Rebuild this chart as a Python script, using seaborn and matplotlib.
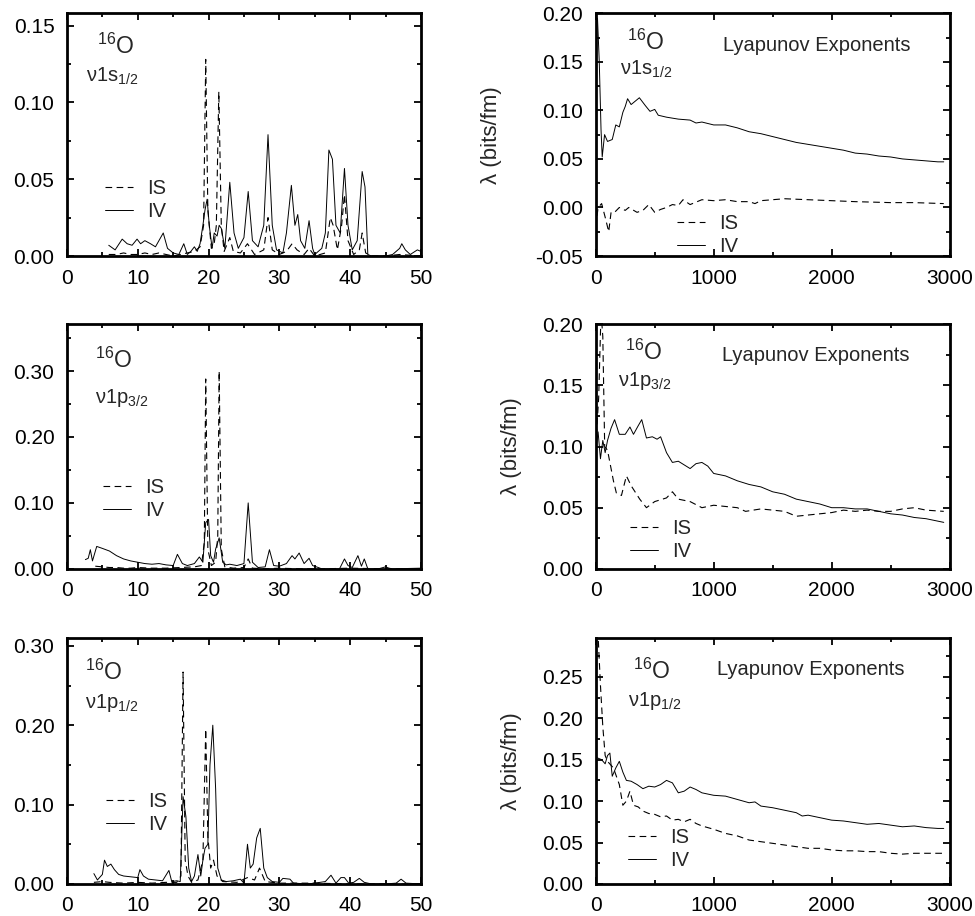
import numpy as np
import pandas as pd
import matplotlib
matplotlib.use('Agg')
import matplotlib.pyplot as plt
import seaborn as sns
from matplotlib.ticker import MultipleLocator, FormatStrFormatter

sns.set_style('ticks')
plt.rcParams['font.family'] = ['Liberation Sans', 'DejaVu Sans']
plt.rcParams['mathtext.fontset'] = 'custom'
plt.rcParams['mathtext.rm'] = 'Liberation Sans'
plt.rcParams['mathtext.it'] = 'Liberation Sans:italic'
plt.rcParams['axes.unicode_minus'] = False

# ---- left column: spectra, x 0..50 ----
s12_iv_x = [5.9, 6.8, 7.8, 8.5, 9.2, 9.9, 10.4, 11.0, 11.8, 12.5,
            13.6, 14.2, 15.0, 15.8, 16.5, 17.0, 17.5, 18.0, 18.4, 18.8,
            19.2, 19.5, 19.8, 20.1, 20.5, 20.8, 21.2, 21.5, 21.8, 22.3,
            23.0, 23.6, 24.2, 25.0, 25.6, 26.2, 27.0, 27.8, 28.4, 29.0,
            29.6, 30.5, 31.0, 31.7, 32.2, 32.6, 33.0, 33.6, 34.2, 34.7,
            35.0, 36.0, 36.5, 37.0, 37.5, 38.0, 38.6, 39.2, 39.7, 40.3,
            41.0, 41.7, 42.1, 42.5, 43.0, 45.0, 46.0, 47.0, 47.3, 47.8,
            48.5, 49.5, 50.0]
s12_iv_y = [0.007, 0.004, 0.011, 0.008, 0.007, 0.011, 0.008, 0.010, 0.008, 0.006,
            0.015, 0.005, 0.002, 0.001, 0.008, 0.001, 0.003, 0.006, 0.003, 0.008,
            0.020, 0.030, 0.037, 0.020, 0.005, 0.015, 0.013, 0.020, 0.018, 0.005,
            0.048, 0.015, 0.005, 0.012, 0.042, 0.010, 0.006, 0.020, 0.079, 0.020,
            0.004, 0.002, 0.015, 0.046, 0.020, 0.027, 0.010, 0.005, 0.023, 0.005,
            0.001, 0.005, 0.015, 0.069, 0.063, 0.020, 0.015, 0.057, 0.020, 0.004,
            0.010, 0.055, 0.045, 0.001, 0.000, 0.000, 0.001, 0.005, 0.008, 0.004,
            0.001, 0.004, 0.003]
s12_is_x = [5.9, 7.0, 8.0, 9.0, 10.0, 11.0, 12.0, 13.0, 14.0, 15.0,
            16.0, 17.0, 18.0, 18.8, 19.3, 19.6, 19.9, 20.4, 20.8, 21.1,
            21.45, 21.8, 22.2, 23.0, 23.5, 24.5, 25.5, 26.5, 27.8, 28.4,
            29.0, 30.0, 31.0, 31.8, 32.5, 33.5, 34.2, 35.0, 36.5, 37.2,
            37.6, 38.2, 38.8, 39.2, 39.7, 40.5, 41.3, 41.7, 42.2, 43.0,
            45.0, 47.0, 50.0]
s12_is_y = [0.001, 0.001, 0.002, 0.001, 0.001, 0.002, 0.001, 0.002, 0.001, 0.000,
            0.001, 0.002, 0.003, 0.006, 0.020, 0.128, 0.030, 0.005, 0.008, 0.020,
            0.107, 0.020, 0.003, 0.012, 0.003, 0.002, 0.008, 0.001, 0.004, 0.025,
            0.004, 0.001, 0.003, 0.008, 0.004, 0.001, 0.005, 0.000, 0.002, 0.025,
            0.020, 0.004, 0.020, 0.040, 0.010, 0.001, 0.004, 0.015, 0.002, 0.000,
            0.000, 0.001, 0.000]

p32_iv_x = [2.6, 3.0, 3.3, 3.6, 4.2, 5.0, 6.0, 7.0, 8.0, 9.0,
            10.0, 11.0, 12.0, 13.0, 14.0, 15.0, 15.6, 16.3, 17.0, 18.0,
            18.7, 19.2, 19.6, 20.0, 20.3, 20.7, 21.0, 21.5, 22.0, 22.5,
            23.0, 24.0, 25.0, 25.6, 26.2, 27.0, 28.0, 28.6, 29.2, 30.0,
            31.0, 31.8, 32.2, 32.8, 33.5, 34.2, 34.7, 35.5, 36.0, 38.5,
            39.2, 39.7, 40.3, 41.1, 41.6, 42.0, 42.5, 44.0, 45.0, 45.5,
            46.0, 50.0]
p32_iv_y = [0.014, 0.016, 0.029, 0.012, 0.034, 0.031, 0.027, 0.020, 0.015, 0.012,
            0.010, 0.008, 0.007, 0.008, 0.006, 0.005, 0.022, 0.008, 0.005, 0.008,
            0.018, 0.010, 0.070, 0.075, 0.020, 0.010, 0.030, 0.047, 0.010, 0.006,
            0.007, 0.005, 0.008, 0.100, 0.010, 0.002, 0.003, 0.029, 0.005, 0.004,
            0.008, 0.020, 0.015, 0.024, 0.008, 0.016, 0.005, 0.002, 0.000, 0.000,
            0.015, 0.005, 0.002, 0.020, 0.004, 0.015, 0.000, 0.000, 0.003, 0.001,
            0.000, 0.001]
p32_is_x = [4.0, 5.0, 6.0, 7.0, 8.0, 9.0, 10.0, 12.0, 14.0, 16.0,
            18.0, 19.0, 19.4, 19.6, 19.9, 20.4, 21.0, 21.3, 21.5, 21.8,
            22.3, 23.5, 25.0, 25.6, 26.2, 28.0, 30.0, 33.0, 36.0, 40.0,
            45.0, 50.0]
p32_is_y = [0.004, 0.003, 0.002, 0.002, 0.001, 0.001, 0.002, 0.001, 0.001, 0.002,
            0.003, 0.005, 0.040, 0.288, 0.030, 0.005, 0.010, 0.050, 0.300, 0.030,
            0.003, 0.001, 0.002, 0.015, 0.001, 0.000, 0.001, 0.000, 0.000, 0.001,
            0.000, 0.000]

p12_iv_x = [3.8, 4.3, 5.0, 5.3, 5.7, 6.2, 6.7, 7.3, 8.0, 9.0,
            10.0, 10.3, 10.8, 11.5, 12.5, 13.5, 14.4, 14.8, 15.5, 16.0,
            16.4, 16.8, 17.2, 17.6, 18.0, 18.5, 18.9, 19.2, 19.5, 19.9,
            20.2, 20.6, 21.0, 21.3, 21.8, 22.5, 23.5, 24.5, 25.0, 25.5,
            25.9, 26.3, 26.8, 27.3, 27.8, 28.3, 29.0, 30.0, 30.5, 31.5,
            32.0, 34.0, 35.0, 36.5, 37.3, 38.0, 38.7, 39.2, 39.8, 40.5,
            41.3, 42.0, 43.0, 45.0, 46.5, 47.2, 47.9, 50.0]
p12_iv_y = [0.013, 0.005, 0.012, 0.030, 0.022, 0.025, 0.018, 0.012, 0.010, 0.009,
            0.008, 0.018, 0.010, 0.006, 0.005, 0.004, 0.017, 0.003, 0.004, 0.003,
            0.110, 0.085, 0.020, 0.003, 0.010, 0.037, 0.010, 0.030, 0.045, 0.050,
            0.150, 0.200, 0.120, 0.020, 0.005, 0.003, 0.004, 0.006, 0.001, 0.050,
            0.020, 0.025, 0.058, 0.070, 0.020, 0.008, 0.003, 0.002, 0.007, 0.006,
            0.001, 0.000, 0.001, 0.003, 0.011, 0.001, 0.008, 0.008, 0.001, 0.002,
            0.007, 0.002, 0.000, 0.000, 0.001, 0.006, 0.001, 0.000]
p12_is_x = [3.8, 5.0, 6.0, 8.0, 10.0, 12.0, 14.0, 15.5, 16.1, 16.4,
            16.7, 17.1, 17.6, 18.5, 19.2, 19.6, 19.9, 20.3, 20.7, 21.2,
            22.0, 24.0, 25.5, 26.5, 27.2, 28.0, 30.0, 35.0, 40.0, 45.0,
            50.0]
p12_is_y = [0.002, 0.003, 0.002, 0.001, 0.002, 0.001, 0.002, 0.002, 0.010, 0.267,
            0.030, 0.010, 0.002, 0.005, 0.030, 0.195, 0.060, 0.020, 0.030, 0.010,
            0.003, 0.002, 0.008, 0.005, 0.020, 0.003, 0.001, 0.001, 0.000, 0.000,
            0.000]

# ---- right column: Lyapunov exponents, x 0..3000 ----
ly_s12_iv_x = [0, 15, 30, 45, 55, 75, 100, 140, 170, 200,
               230, 250, 270, 300, 340, 370, 420, 460, 500, 530,
               600, 700, 800, 850, 900, 1000, 1100, 1200, 1300, 1400,
               1500, 1600, 1700, 1800, 1900, 2000, 2100, 2200, 2300, 2400,
               2500, 2600, 2700, 2800, 2900, 2950]
ly_s12_iv_y = [0.190, 0.195, 0.150, 0.080, 0.052, 0.075, 0.068, 0.070, 0.085, 0.083,
               0.098, 0.104, 0.112, 0.106, 0.110, 0.113, 0.105, 0.099, 0.101, 0.095,
               0.093, 0.091, 0.090, 0.087, 0.088, 0.085, 0.085, 0.082, 0.078, 0.076,
               0.073, 0.070, 0.067, 0.065, 0.063, 0.061, 0.059, 0.056, 0.055, 0.053,
               0.052, 0.050, 0.049, 0.048, 0.047, 0.047]
ly_s12_is_x = [0, 20, 50, 80, 110, 130, 160, 200, 250, 280,
               350, 400, 450, 500, 550, 600, 650, 700, 740, 800,
               900, 1000, 1100, 1200, 1300, 1350, 1400, 1500, 1600, 1800,
               2000, 2200, 2500, 2700, 2950]
ly_s12_is_y = [-0.020, 0.000, 0.004, -0.010, -0.025, -0.005, -0.005, 0.000, -0.003, 0.000,
               -0.005, -0.003, 0.003, -0.005, -0.002, 0.000, 0.003, 0.002, 0.008, 0.003,
               0.008, 0.007, 0.008, 0.006, 0.006, 0.004, 0.007, 0.008, 0.009, 0.008,
               0.007, 0.006, 0.005, 0.005, 0.004]

ly_p32_iv_x = [0, 20, 40, 60, 80, 100, 130, 160, 200, 250,
               290, 320, 360, 390, 430, 480, 520, 550, 600, 650,
               700, 750, 800, 850, 900, 950, 1000, 1100, 1200, 1300,
               1400, 1500, 1600, 1700, 1800, 1900, 2000, 2100, 2200, 2300,
               2400, 2500, 2600, 2700, 2800, 2900, 2950]
ly_p32_iv_y = [0.098, 0.112, 0.090, 0.105, 0.095, 0.105, 0.115, 0.122, 0.110, 0.110,
               0.116, 0.110, 0.117, 0.122, 0.107, 0.108, 0.106, 0.108, 0.095, 0.087,
               0.088, 0.085, 0.082, 0.086, 0.087, 0.084, 0.078, 0.076, 0.072, 0.069,
               0.067, 0.063, 0.061, 0.057, 0.055, 0.053, 0.050, 0.050, 0.049, 0.049,
               0.047, 0.045, 0.044, 0.042, 0.041, 0.039, 0.038]
ly_p32_is_x = [0, 25, 45, 60, 76, 100, 150, 175, 218, 260,
               300, 373, 430, 500, 600, 650, 700, 800, 900, 1000,
               1100, 1200, 1270, 1400, 1600, 1700, 1800, 1900, 2000, 2100,
               2200, 2300, 2400, 2500, 2600, 2700, 2800, 2950]
ly_p32_is_y = [0.100, 0.140, 0.210, 0.190, 0.100, 0.097, 0.072, 0.062, 0.060, 0.076,
               0.068, 0.057, 0.050, 0.055, 0.058, 0.063, 0.057, 0.055, 0.050, 0.052,
               0.051, 0.050, 0.047, 0.049, 0.047, 0.043, 0.044, 0.045, 0.046, 0.048,
               0.047, 0.048, 0.047, 0.047, 0.049, 0.050, 0.048, 0.047]

ly_p12_iv_x = [0, 50, 80, 100, 120, 140, 170, 200, 230, 260,
               300, 350, 400, 450, 500, 550, 600, 650, 700, 750,
               800, 850, 900, 1000, 1100, 1200, 1300, 1350, 1400, 1500,
               1600, 1700, 1750, 1800, 1900, 2000, 2100, 2200, 2300, 2400,
               2500, 2600, 2700, 2800, 2900, 2950]
ly_p12_iv_y = [0.153, 0.150, 0.145, 0.155, 0.158, 0.130, 0.140, 0.148, 0.135, 0.125,
               0.124, 0.120, 0.115, 0.118, 0.117, 0.120, 0.125, 0.122, 0.110, 0.112,
               0.117, 0.114, 0.110, 0.107, 0.106, 0.102, 0.098, 0.099, 0.094, 0.092,
               0.089, 0.086, 0.082, 0.083, 0.080, 0.077, 0.076, 0.074, 0.072, 0.073,
               0.071, 0.069, 0.070, 0.068, 0.067, 0.067]
ly_p12_is_x = [0, 20, 40, 60, 80, 100, 150, 200, 230, 260,
               290, 320, 360, 400, 450, 500, 550, 600, 650, 700,
               750, 800, 850, 900, 1000, 1100, 1200, 1300, 1400, 1500,
               1600, 1700, 1800, 1900, 2000, 2100, 2200, 2300, 2400, 2500,
               2600, 2700, 2800, 2950]
ly_p12_is_y = [0.320, 0.300, 0.240, 0.190, 0.155, 0.148, 0.140, 0.120, 0.095, 0.100,
               0.112, 0.095, 0.093, 0.088, 0.085, 0.084, 0.081, 0.082, 0.077, 0.078,
               0.075, 0.078, 0.073, 0.070, 0.066, 0.061, 0.058, 0.053, 0.051, 0.049,
               0.047, 0.045, 0.043, 0.043, 0.041, 0.040, 0.040, 0.039, 0.039, 0.037,
               0.036, 0.037, 0.037, 0.037]

states = ['ν1s$_{1/2}$', 'ν1p$_{3/2}$', 'ν1p$_{1/2}$']

FS = 15     # tick labels
TS = 14.5   # texts in the panels
fig = plt.figure(figsize=(9.75, 9.16), dpi=100)

left_x, right_x, w = 0.0687, 0.611, 0.363
rows = [(0.7205, 0.265), (0.379, 0.267), (0.035, 0.2686)]


def style_axes(ax, xmaj, xmin, ymaj, ymin, fmt):
    ax.xaxis.set_major_locator(MultipleLocator(xmaj))
    ax.xaxis.set_minor_locator(MultipleLocator(xmin))
    ax.yaxis.set_major_locator(MultipleLocator(ymaj))
    ax.yaxis.set_minor_locator(MultipleLocator(ymin))
    ax.yaxis.set_major_formatter(FormatStrFormatter(fmt))
    ax.tick_params(which='both', direction='in', top=True, right=True,
                   labelsize=FS, width=1.3, color='black', labelcolor='black')
    ax.tick_params(which='major', length=5, pad=9)
    ax.tick_params(which='minor', length=3)
    for sp in ax.spines.values():
        sp.set_linewidth(2.0)
        sp.set_color('black')
        sp.set_visible(True)


def draw(ax, is_x, is_y, iv_x, iv_y):
    d_is = pd.DataFrame({'x': is_x, 'y': is_y})
    d_iv = pd.DataFrame({'x': iv_x, 'y': iv_y})
    sns.lineplot(data=d_is, x='x', y='y', ax=ax, color='black', lw=0.8,
                 linestyle=(0, (6, 4)), estimator=None, sort=False, label='IS')
    sns.lineplot(data=d_iv, x='x', y='y', ax=ax, color='black', lw=0.7,
                 estimator=None, sort=False, label='IV')
    ax.set_xlabel('')
    ax.set_ylabel('')


def legend(ax, x, y):
    ax.legend(loc='center left', bbox_to_anchor=(x, y), frameon=False,
              fontsize=TS, handlelength=1.4, handletextpad=0.7,
              labelspacing=0.2, borderpad=0, borderaxespad=0)


spec = [(s12_is_x, s12_is_y, s12_iv_x, s12_iv_y),
        (p32_is_x, p32_is_y, p32_iv_x, p32_iv_y),
        (p12_is_x, p12_is_y, p12_iv_x, p12_iv_y)]
lyap = [(ly_s12_is_x, ly_s12_is_y, ly_s12_iv_x, ly_s12_iv_y),
        (ly_p32_is_x, ly_p32_is_y, ly_p32_iv_x, ly_p32_iv_y),
        (ly_p12_is_x, ly_p12_is_y, ly_p12_iv_x, ly_p12_iv_y)]

left_ylim = [0.158, 0.371, 0.31]
left_ymaj = [(0.05, 0.025), (0.1, 0.05), (0.1, 0.05)]
left_leg = [(0.108, 0.23), (0.102, 0.286), (0.11, 0.29)]
left_o = [(0.085, 0.862), (0.079, 0.853), (0.051, 0.862)]
left_s = [(0.054, 0.74), (0.079, 0.70), (0.051, 0.735)]

right_ylim = [(-0.05, 0.20), (0.0, 0.20), (0.0, 0.297)]
right_leg = [(0.229, 0.087), (0.096, 0.118), (0.09, 0.142)]
right_o = [(0.088, 0.882), (0.082, 0.885), (0.105, 0.865)]
right_s = [(0.068, 0.77), (0.062, 0.77), (0.09, 0.742)]
right_ly = [(0.359, 0.868), (0.356, 0.873), (0.342, 0.87)]
right_lab = [-0.266, -0.209, -0.209]

for i in range(3):
    y0, h = rows[i]
    # spectrum
    ax = fig.add_axes([left_x, y0, w, h])
    draw(ax, *spec[i])
    ax.set_xlim(0, 50)
    ax.set_ylim(0, left_ylim[i])
    style_axes(ax, 10, 5, left_ymaj[i][0], left_ymaj[i][1], '%.2f')
    legend(ax, *left_leg[i])
    ax.text(left_o[i][0], left_o[i][1], r'$^{16}$O', transform=ax.transAxes,
            fontsize=TS + 2, va='center', ha='left')
    ax.text(left_s[i][0], left_s[i][1], states[i], transform=ax.transAxes,
            fontsize=TS, va='center', ha='left')

    # lyapunov exponents
    ax = fig.add_axes([right_x, y0, w, h])
    draw(ax, *lyap[i])
    ax.set_xlim(0, 3000)
    ax.set_ylim(*right_ylim[i])
    style_axes(ax, 1000, 500, 0.05, 0.025, '%.2f')
    legend(ax, *right_leg[i])
    ax.set_ylabel('λ (bits/fm)', fontsize=16)
    ax.yaxis.set_label_coords(right_lab[i], 0.5)
    ax.text(right_o[i][0], right_o[i][1], r'$^{16}$O', transform=ax.transAxes,
            fontsize=TS + 2, va='center', ha='left')
    ax.text(right_s[i][0], right_s[i][1], states[i], transform=ax.transAxes,
            fontsize=TS, va='center', ha='left')
    ax.text(right_ly[i][0], right_ly[i][1], 'Lyapunov Exponents',
            transform=ax.transAxes, fontsize=TS, va='center', ha='left')

fig.savefig('out.png', dpi=100)
